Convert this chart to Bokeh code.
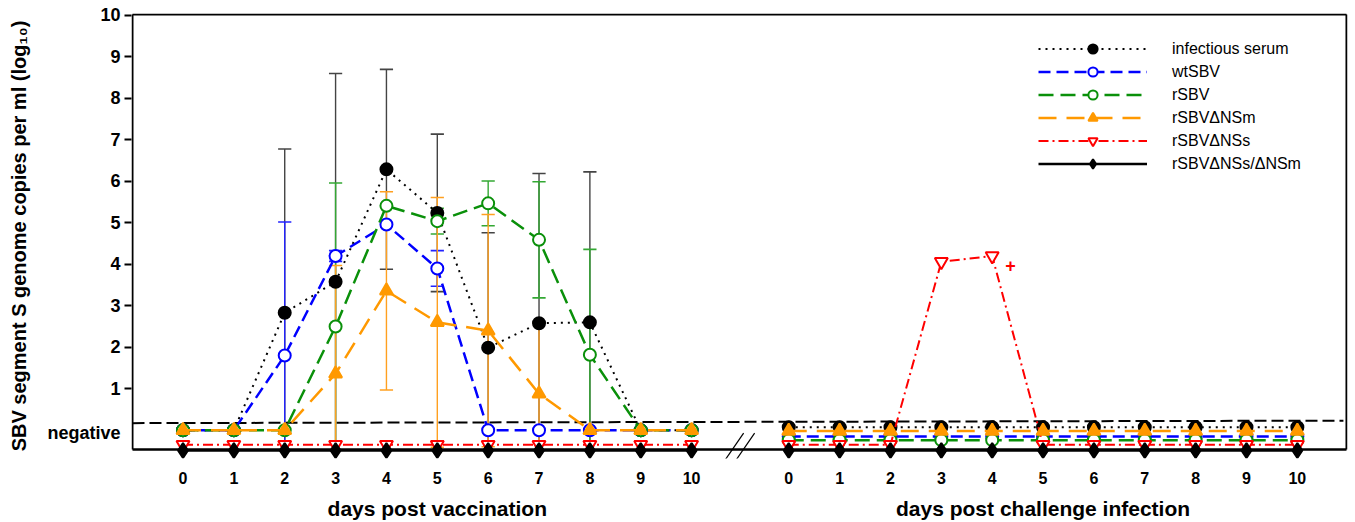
from bokeh.plotting import figure
from bokeh.models import (Range1d, FixedTicker, CustomJSTickFormatter,
                          Legend, LegendItem, Arrow, LinearAxis)
from bokeh.embed import file_html
from bokeh.resources import INLINE

# ---------------- data ----------------
days = [0, 1, 2, 3, 4, 5, 6, 7, 8, 9, 10]
right_offset = 11.91          # where the challenge panel starts on the shared x scale

# vaccination phase (mean, SD)
serum_vac    = [0, 0, 2.83, 3.58, 6.29, 5.24, 1.99, 2.58, 2.60, 0, 0]
serum_vac_sd = [0, 0, 3.95, 5.02, 2.41, 1.90, 2.77, 3.61, 3.63, 0, 0]
wt_vac       = [0, 0, 1.80, 4.20, 4.96, 3.90, 0, 0, 0, 0, 0]
wt_vac_sd    = [0, 0, 3.22, 0.13, 0, 0.43, 0, 0, 0, 0, 0]
rsbv_vac     = [0, 0, 0, 2.50, 5.41, 5.04, 5.47, 4.59, 1.82, 0, 0]
rsbv_vac_sd  = [0, 0, 0, 3.46, 0, 0.31, 0.54, 1.40, 2.54, 0, 0]
nsm_vac      = [0, 0, 0, 1.36, 3.36, 2.60, 2.40, 0.88, 0, 0, 0]
nsm_vac_sd   = [0, 0, 0, 2.61, 2.39, 3.01, 2.80, 1.71, 0, 0, 0]
nss_vac      = [-0.35, -0.35, -0.35, -0.35, -0.35, -0.35, -0.35, -0.35, -0.35, -0.35, -0.35]
dbl_vac      = [-0.49, -0.49, -0.49, -0.49, -0.49, -0.49, -0.49, -0.49, -0.49, -0.49, -0.49]

# challenge phase
serum_ch = [0.07, 0.07, 0.07, 0.07, 0.07, 0.07, 0.07, 0.07, 0.07, 0.07, 0.07]
wt_ch    = [-0.15, -0.15, -0.15, -0.15, -0.15, -0.15, -0.15, -0.15, -0.15, -0.15, -0.15]
rsbv_ch  = [-0.24, -0.24, -0.24, -0.24, -0.24, -0.24, -0.24, -0.24, -0.24, -0.24, -0.24]
nsm_ch   = [-0.02, -0.02, -0.02, -0.02, -0.02, -0.02, -0.02, -0.02, -0.02, -0.02, -0.02]
nss_ch   = [-0.35, -0.35, -0.35, 4.06, 4.20, -0.35, -0.35, -0.35, -0.35, -0.35, -0.35]
dbl_ch   = [-0.49, -0.49, -0.49, -0.49, -0.49, -0.49, -0.49, -0.49, -0.49, -0.49, -0.49]

threshold = [0.17, 0.23]      # "negative" cut-off line (left end, right end)
death_day, death_val = 4.36, 3.96   # "+" marker in challenge panel

series_names = ["infectious serum", "wtSBV", "rSBV", "rSBV\u0394NSm",
                "rSBV\u0394NSs", "rSBV\u0394NSs/\u0394NSm"]
y_ticks = [1, 2, 3, 4, 5, 6, 7, 8, 9, 10]
negative_pos = -0.06
x_titles = ["days post vaccination", "days post challenge infection"]

# ---------------- figure ----------------
FONT = "Liberation Sans"
x0, x1 = -1.0126, 22.896
y0, y1 = -0.683, 10.048
axis_bottom = -0.467
frame_left, frame_right, frame_top = -0.993, 22.876, 10.024

p = figure(width=1355, height=522, output_backend="svg", toolbar_location=None,
           x_range=Range1d(x0, x1), y_range=Range1d(y0, y1),
           min_border_left=131, min_border_right=8, min_border_top=13,
           min_border_bottom=63)
p.outline_line_color = None
p.grid.visible = False
p.background_fill_color = "white"

# y axis: labels on "major" ticks (incl. 'negative'), tick marks drawn as minor ticks
p.yaxis.ticker = FixedTicker(ticks=[negative_pos] + y_ticks, minor_ticks=y_ticks)
p.yaxis.formatter = CustomJSTickFormatter(
    code="return tick < 0.5 ? 'negative' : String(Math.round(tick));")
p.yaxis.axis_line_color = None
p.yaxis.major_tick_line_color = None
p.yaxis.major_tick_out = 0
p.yaxis.major_tick_in = 0
p.yaxis.minor_tick_out = 7
p.yaxis.minor_tick_in = 0
p.yaxis.minor_tick_line_width = 2
p.yaxis.minor_tick_line_color = "black"
p.yaxis.major_label_standoff = 4
p.yaxis.major_label_text_font = FONT
p.yaxis.major_label_text_font_style = "bold"
p.yaxis.major_label_text_font_size = "18px"
p.yaxis.major_label_text_color = "black"
p.yaxis.axis_label = "SBV segment S genome copies per ml (log\u2081\u2080)"
p.yaxis.axis_label_text_font = FONT
p.yaxis.axis_label_text_font_style = "bold"
p.yaxis.axis_label_text_font_size = "20px"
p.yaxis.axis_label_text_color = "black"
p.yaxis.axis_label_standoff = 14

# x axis (tick numbers)
xt = days + [d + right_offset for d in days]
p.xaxis.ticker = FixedTicker(ticks=xt)
p.xaxis.formatter = CustomJSTickFormatter(
    args=dict(off=right_offset),
    code="var d = tick > 10.5 ? tick - off : tick; return String(Math.round(d));")
p.xaxis.axis_line_color = None
p.xaxis.major_tick_line_color = None
p.xaxis.minor_tick_line_color = None
p.xaxis.major_label_standoff = 7
p.xaxis.major_label_text_font = FONT
p.xaxis.major_label_text_font_style = "bold"
p.xaxis.major_label_text_font_size = "16px"
p.xaxis.major_label_text_color = "black"

# second x axis carrying the two panel titles
title_axis = LinearAxis(
    ticker=FixedTicker(ticks=[5, 5 + right_offset]),
    formatter=CustomJSTickFormatter(
        args=dict(t=x_titles), code="return tick > 10.5 ? t[1] : t[0];"),
    axis_line_color=None, major_tick_line_color=None, minor_tick_line_color=None,
    major_label_standoff=4, major_label_text_font=FONT,
    major_label_text_font_style="bold", major_label_text_font_size="21px",
    major_label_text_color="black")
p.add_layout(title_axis, "below")

# frame lines
p.line([frame_left, frame_left], [axis_bottom, frame_top], color="black", line_width=2)
p.line([frame_left, frame_right], [frame_top, frame_top], color="black", line_width=2)
p.line([frame_right, frame_right], [axis_bottom, frame_top], color="black", line_width=2)
p.line([frame_left, frame_right], [axis_bottom, axis_bottom], color="black", line_width=2.5)

# threshold line
p.line([frame_left, frame_right - 0.06], threshold, color="black", line_width=2,
       line_dash="12 5")

# error bars
def errorbars(vals, sds, color):
    xs, ylo, yhi, cx0, cx1, cy = [], [], [], [], [], []
    for d, m, s in zip(days, vals, sds):
        if s <= 0:
            continue
        lo = m - s
        hi = m + s
        xs.append(d)
        ylo.append(max(lo, axis_bottom))
        yhi.append(hi)
        cx0.append(d - 0.13); cx1.append(d + 0.13); cy.append(hi)
        if lo > axis_bottom:
            cx0.append(d - 0.13); cx1.append(d + 0.13); cy.append(lo)
    p.segment(xs, ylo, xs, yhi, color=color, line_width=1.4)
    p.segment(cx0, cy, cx1, cy, color=color, line_width=1.6)

errorbars(serum_vac, serum_vac_sd, "#444444")
errorbars(rsbv_vac, rsbv_vac_sd, "#33a833")
errorbars(wt_vac, wt_vac_sd, "#2222ff")
errorbars(nsm_vac, nsm_vac_sd, "#ffa020")

right_days = [d + right_offset for d in days]

styles = [
    # name, vac, ch, color, dash, marker, fill, size, lw
    (series_names[0], serum_vac, serum_ch, "black", "2 5", "circle", "black", 12, 2),
    (series_names[1], wt_vac, wt_ch, "#0000ff", "12 6", "circle", "white", 12, 2.5),
    (series_names[2], rsbv_vac, rsbv_ch, "#0a900a", "15 7", "circle", "white", 12, 2.5),
    (series_names[4], nss_vac, nss_ch, "#ff0000", "10 4 2 4", "inverted_triangle", "white", 13, 2),
    (series_names[3], nsm_vac, nsm_ch, "#ff9900", "18 10", "triangle", "#ff9900", 13, 2.5),
    (series_names[5], dbl_vac, dbl_ch, "black", "solid", "diamond", "black", 15, 2.5),
]

legend_map = {}
for name, vac, ch, color, dash, marker, fill, size, lw in styles:
    rs = []
    for xsrc, ysrc in ((days, vac), (right_days, ch)):
        l = p.line(xsrc, ysrc, color=color, line_width=lw, line_dash=dash)
        s = p.scatter(xsrc, ysrc, marker=marker, size=size, fill_color=fill,
                      line_color=color, line_width=2)
        rs.append((l, s))
    legend_map[name] = [rs[0][0], rs[0][1]]

items = [LegendItem(label=n, renderers=legend_map[n]) for n in series_names]
legend = Legend(items=items, location=(907, 283), orientation="vertical",
                glyph_width=109, glyph_height=23, label_height=23,
                label_standoff=25, spacing=0, padding=0, margin=0,
                label_text_font=FONT, label_text_font_size="16px",
                label_text_color="black",
                border_line_alpha=0, background_fill_alpha=0)
p.add_layout(legend)

# death marker
p.text([death_day + right_offset], [death_val], text=["+"], text_color="#ff0000",
       text_font_size="18px", text_font_style="bold", text_align="center",
       text_baseline="middle", text_font={"value": FONT})

# axis break marks
brk = 10.915
for dx in (-0.108, 0.108):
    p.add_layout(Arrow(end=None, x_start=brk + dx - 0.216, y_start=-0.84,
                       x_end=brk + dx + 0.216, y_end=-0.07,
                       line_color="black", line_width=1.2))

open("out.html", "w").write(file_html(p, INLINE))
